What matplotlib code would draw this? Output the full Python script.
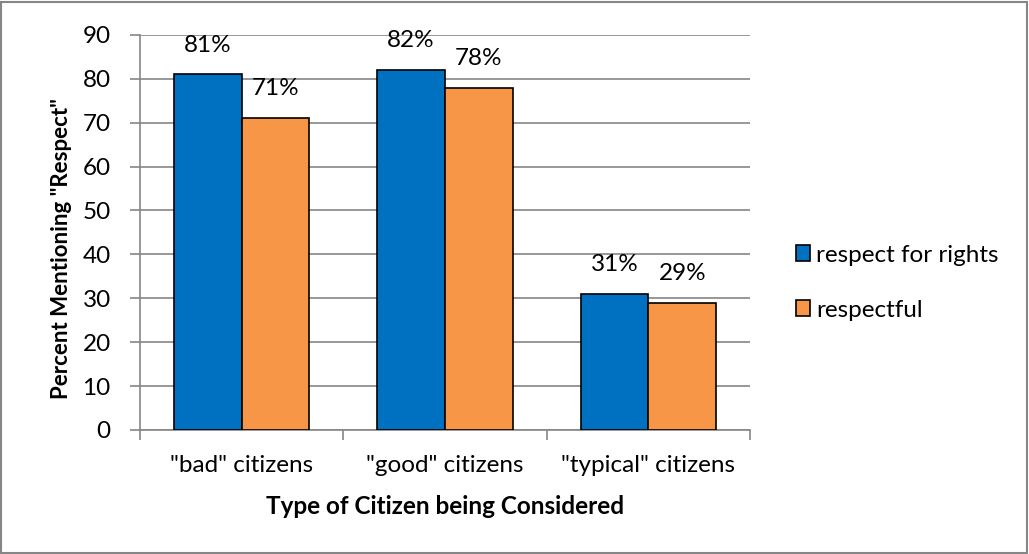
import numpy as np
import matplotlib.pyplot as plt
from matplotlib.patches import Rectangle

# datos
categorias = ['"bad" citizens', '"good" citizens', '"typical" citizens']
respeto_derechos = [81, 82, 31]
respetuoso = [71, 78, 29]
series = ["respect for rights", "respectful"]

plt.rcParams['font.family'] = ['Lato', 'DejaVu Sans']

fig = plt.figure(figsize=(10.29, 5.54), dpi=100)
ax = fig.add_axes([0.136, 0.224, 0.593, 0.713])

x = np.arange(len(categorias))
w = 1 / 3
gris = "#868686"
fs = 17.5

b1 = ax.bar(x - w / 2, respeto_derechos, w, color="#0070C0", edgecolor="black",
            linewidth=1.2, label=series[0], zorder=3)
b2 = ax.bar(x + w / 2, respetuoso, w, color="#F79646", edgecolor="black",
            linewidth=1.2, label=series[1], zorder=3)

for barras, vals in [(b1, respeto_derechos), (b2, respetuoso)]:
    for r, v in zip(barras, vals):
        ax.text(r.get_x() + r.get_width() / 2, v + 4.3, f"{v}%",
                ha="center", va="bottom", fontsize=fs)

ax.set_xlim(-0.5, 2.5)
ax.set_ylim(0, 90)
ax.set_yticks(range(0, 91, 10))
ax.yaxis.grid(True, color=gris, linewidth=1.2, zorder=0)
ax.set_axisbelow(True)

ax.set_xticks(x)
ax.set_xticklabels(categorias, fontsize=fs)
ax.set_xticks([-0.5, 0.5, 1.5, 2.5], minor=True)
ax.tick_params(axis="x", which="major", length=0, pad=18)
ax.tick_params(axis="x", which="minor", length=7, color=gris, width=1.2)
ax.tick_params(axis="y", labelsize=fs, length=7, color=gris, width=1.2, pad=14)

for s in ["top", "right"]:
    ax.spines[s].set_visible(False)
for s in ["left", "bottom"]:
    ax.spines[s].set_color(gris)
    ax.spines[s].set_linewidth(1.2)

ax.set_xlabel("Type of Citizen being Considered", fontsize=fs, fontweight="bold", labelpad=14)
ax.set_ylabel('Percent Mentioning "Respect"', fontsize=16, fontweight="bold")
ax.yaxis.set_label_coords(-0.111, 0.46)

leg = fig.legend(loc="center left", bbox_to_anchor=(0.752, 0.49), frameon=False,
                 fontsize=fs, handlelength=0.6, handleheight=0.6, handletextpad=0.25,
                 labelspacing=1.4)
for h in leg.legend_handles:
    h.set_linewidth(1.2)

# borde exterior
fig.patches.append(Rectangle((0.001, 0.002), 0.997, 0.995, transform=fig.transFigure,
                             fill=False, edgecolor=gris, linewidth=1.5))

plt.savefig("out.png", dpi=100)
